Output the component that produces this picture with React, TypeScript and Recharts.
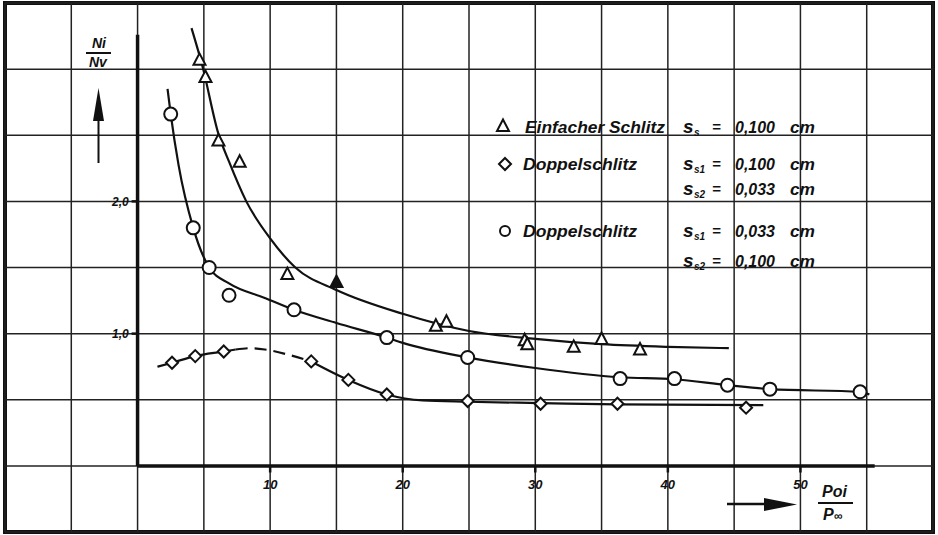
import React from 'react';
import { ComposedChart, Line, Scatter, XAxis, YAxis, ReferenceLine, ReferenceArea, ReferenceDot } from 'recharts';

// grid every 5 units in x, every 0.5 in y
const xGridTicks = [-10, -5, 0, 5, 10, 15, 20, 25, 30, 35, 40, 45, 50, 55, 60];
const yGridTicks = [-0.5, 0, 0.5, 1, 1.5, 2, 2.5, 3, 3.5];
const xTickValues = [10, 20, 30, 40, 50];
const xTickLabels = ['10', '20', '30', '40', '50'];
const yTickValues = [1, 2];
const yTickLabels = ['1,0', '2,0'];

// measured points
const triangles = [
    { x: 4.67, y: 3.07 }, { x: 5.12, y: 2.94 }, { x: 6.1, y: 2.46 }, { x: 7.7, y: 2.3 },
    { x: 11.3, y: 1.45 }, { x: 22.5, y: 1.06 }, { x: 23.3, y: 1.09 }, { x: 29.2, y: 0.95 },
    { x: 29.4, y: 0.92 }, { x: 32.9, y: 0.9 }, { x: 35.0, y: 0.96 }, { x: 37.9, y: 0.88 },
];
const trianglesFilled = [{ x: 15.0, y: 1.39 }];
const circles = [
    { x: 2.5, y: 2.66 }, { x: 4.2, y: 1.8 }, { x: 5.4, y: 1.5 }, { x: 6.9, y: 1.29 },
    { x: 11.8, y: 1.18 }, { x: 18.8, y: 0.97 }, { x: 24.9, y: 0.82 }, { x: 36.4, y: 0.66 },
    { x: 40.5, y: 0.66 }, { x: 44.5, y: 0.61 }, { x: 47.7, y: 0.58 }, { x: 54.5, y: 0.56 },
];
const diamonds = [
    { x: 2.6, y: 0.78 }, { x: 4.35, y: 0.83 }, { x: 6.5, y: 0.865 }, { x: 13.1, y: 0.79 },
    { x: 15.9, y: 0.65 }, { x: 18.8, y: 0.54 }, { x: 24.9, y: 0.49 }, { x: 30.4, y: 0.47 },
    { x: 36.2, y: 0.47 }, { x: 45.9, y: 0.44 },
];

// hand-drawn fit curves
const triangleCurve = [
    { x: 4.07, y: 3.31 }, { x: 4.9, y: 3.02 }, { x: 6.1, y: 2.51 }, { x: 6.9, y: 2.3 },
    { x: 8.2, y: 2.0 }, { x: 10, y: 1.72 }, { x: 11.9, y: 1.5 }, { x: 15, y: 1.33 },
    { x: 20, y: 1.15 }, { x: 25, y: 1.02 }, { x: 30, y: 0.96 }, { x: 35, y: 0.92 },
    { x: 40, y: 0.9 }, { x: 44.6, y: 0.89 },
];
const circleCurve = [
    { x: 2.26, y: 2.85 }, { x: 2.5, y: 2.66 }, { x: 3.1, y: 2.27 }, { x: 4.2, y: 1.8 },
    { x: 5.4, y: 1.5 }, { x: 6.9, y: 1.38 }, { x: 9.6, y: 1.27 }, { x: 11.8, y: 1.18 },
    { x: 15, y: 1.08 }, { x: 18.8, y: 0.97 }, { x: 20, y: 0.93 }, { x: 24.9, y: 0.82 },
    { x: 30, y: 0.74 }, { x: 36.4, y: 0.67 }, { x: 40.5, y: 0.655 }, { x: 44.5, y: 0.61 },
    { x: 47.7, y: 0.58 }, { x: 54.5, y: 0.56 }, { x: 55.2, y: 0.54 },
];
const diamondCurveA = [
    { x: 1.5, y: 0.75 }, { x: 2.6, y: 0.78 }, { x: 4.35, y: 0.83 }, { x: 6.5, y: 0.865 }, { x: 7.4, y: 0.88 },
];
const diamondCurveDashed = [
    { x: 7.4, y: 0.88 }, { x: 8.5, y: 0.89 }, { x: 9.6, y: 0.88 }, { x: 11.4, y: 0.84 }, { x: 13.1, y: 0.79 },
];
const diamondCurveB = [
    { x: 13.1, y: 0.79 }, { x: 15.9, y: 0.65 }, { x: 18.8, y: 0.54 }, { x: 21.5, y: 0.495 },
    { x: 24.9, y: 0.485 }, { x: 30.4, y: 0.475 }, { x: 36.2, y: 0.465 }, { x: 47.2, y: 0.46 },
];

const INK = '#111';
const FONT = "'Liberation Sans', Arial, sans-serif";

const Triangle = (props: any) => {
    const { cx, cy, filled } = props;
    return <polygon points={`${cx},${cy - 6.5} ${cx + 6},${cy + 5} ${cx - 6},${cy + 5}`} fill={filled ? INK : '#fff'} stroke={INK} strokeWidth={2} />;
};
const Circle = (props: any) => <circle cx={props.cx} cy={props.cy} r={6.5} fill="#fff" stroke={INK} strokeWidth={2} />;
const Diamond = (props: any) => {
    const { cx, cy } = props;
    return <polygon points={`${cx},${cy - 6} ${cx + 6},${cy} ${cx},${cy + 6} ${cx - 6},${cy}`} fill="#fff" stroke={INK} strokeWidth={2} />;
};

const txt = { fontFamily: FONT, fontStyle: 'italic' as const, fontWeight: 700, fill: INK };

function SVal({ x, y, sub, value }: { x: number; y: number; sub: string; value: string }) {
    return (
        <g>
            <text x={x} y={y} fontSize={19} {...txt}>s</text>
            <text x={x + 11} y={y + 3} fontSize={10} {...txt}>{sub}</text>
            <text x={x + 29} y={y - 1} fontSize={15} {...txt}>=</text>
            <text x={x + 52} y={y} fontSize={17} textLength={40} lengthAdjust="spacingAndGlyphs" {...txt}>{value}</text>
            <text x={x + 107} y={y} fontSize={17} textLength={25} lengthAdjust="spacingAndGlyphs" {...txt}>cm</text>
        </g>
    );
}

function Overlay() {
    return (
        <svg width={938} height={535} style={{ position: 'absolute', left: 0, top: 0, pointerEvents: 'none' }}>
            {/* y title */}
            <text x={92} y={48} fontSize={14} {...txt}>Ni</text>
            <line x1={86} y1={53} x2={111} y2={53} stroke={INK} strokeWidth={2} />
            <text x={89} y={67} fontSize={14} {...txt}>Nv</text>
            <polygon points="98.5,88 104,121 93,121" fill={INK} />
            <line x1={98.5} y1={118} x2={98.5} y2={163} stroke={INK} strokeWidth={2} />
            {/* x title */}
            <text x={822} y={497} fontSize={16} {...txt}>Poi</text>
            <line x1={818} y1={503} x2={853} y2={503} stroke={INK} strokeWidth={2} />
            <text x={823} y={520} fontSize={16} {...txt}>P<tspan fontSize={12}>∞</tspan></text>
            <line x1={727} y1={504} x2={770} y2={504} stroke={INK} strokeWidth={2.5} />
            <polygon points="764,498 797,504.5 764,511" fill={INK} />
            {/* legend */}
            <Triangle cx={503} cy={126} />
            <text x={525} y={133} fontSize={17} textLength={140} lengthAdjust="spacingAndGlyphs" {...txt}>Einfacher Schlitz</text>
            <SVal x={683} y={133} sub="s" value="0,100" />
            <Diamond cx={505} cy={164} />
            <text x={523} y={170} fontSize={17} textLength={114} lengthAdjust="spacingAndGlyphs" {...txt}>Doppelschlitz</text>
            <SVal x={683} y={170} sub="s1" value="0,100" />
            <SVal x={683} y={195} sub="s2" value="0,033" />
            <circle cx={505} cy={231} r={5} fill="#fff" stroke={INK} strokeWidth={2} />
            <text x={523} y={237} fontSize={17} textLength={114} lengthAdjust="spacingAndGlyphs" {...txt}>Doppelschlitz</text>
            <SVal x={683} y={237} sub="s1" value="0,033" />
            <SVal x={683} y={267} sub="s2" value="0,100" />
        </svg>
    );
}

const labelStyle = { fontFamily: FONT, fontStyle: 'italic', fontWeight: 700, fontSize: 13, fill: INK };

export default function App() {
    return (
        <div style={{ position: 'absolute', left: 0, top: 0, width: 938, height: 535, background: '#fff' }}>
            <ComposedChart width={938} height={535} margin={{ top: 3, right: 5, bottom: 3, left: 5 }}>
                <XAxis type="number" dataKey="x" domain={[-10, 60]} ticks={xGridTicks} height={0} tick={false} axisLine={false} tickLine={false} allowDataOverflow />
                <YAxis type="number" dataKey="y" domain={[-0.5, 3.5]} ticks={yGridTicks} width={0} tick={false} axisLine={false} tickLine={false} allowDataOverflow />
                {/* grid */}
                {xGridTicks.map((t) => (
                    <ReferenceLine key={`gx${t}`} x={t} stroke="#222" strokeWidth={1.5} />
                ))}
                {yGridTicks.map((t) => (
                    <ReferenceLine key={`gy${t}`} y={t} stroke="#222" strokeWidth={1.5} />
                ))}
                <ReferenceArea x1={-10} x2={60} y1={-0.5} y2={3.5} fill="none" stroke={INK} strokeWidth={4} />
                <ReferenceLine segment={[{ x: 0, y: 0 }, { x: 0, y: 3.26 }]} stroke={INK} strokeWidth={3.5} />
                <ReferenceLine segment={[{ x: 0, y: 0 }, { x: 55.6, y: 0 }]} stroke={INK} strokeWidth={3.5} />
                {yTickValues.map((v, i) => (
                    <ReferenceLine key={`yt${i}`} segment={[{ x: -0.45, y: v }, { x: 0, y: v }]} stroke={INK} strokeWidth={2.5} />
                ))}
                {xTickValues.map((v, i) => (
                    <ReferenceLine key={`xt${i}`} segment={[{ x: v, y: 0 }, { x: v, y: -0.05 }]} stroke={INK} strokeWidth={2.5} />
                ))}
                {xTickValues.map((v, i) => (
                    <ReferenceDot key={`xl${i}`} x={v} y={-0.14} r={0} stroke="none" label={{ value: xTickLabels[i], position: 'center', ...labelStyle }} />
                ))}
                {yTickValues.map((v, i) => (
                    <ReferenceDot key={`yl${i}`} x={-1.3} y={v} r={0} stroke="none" label={{ value: yTickLabels[i], position: 'center', ...labelStyle, fontSize: 12 }} />
                ))}

                <Line data={triangleCurve} dataKey="y" type="monotone" stroke={INK} strokeWidth={2.2} dot={false} isAnimationActive={false} />
                <Line data={circleCurve} dataKey="y" type="monotone" stroke={INK} strokeWidth={2.2} dot={false} isAnimationActive={false} />
                <Line data={diamondCurveA} dataKey="y" type="monotone" stroke={INK} strokeWidth={2.2} dot={false} isAnimationActive={false} />
                <Line data={diamondCurveDashed} dataKey="y" type="monotone" stroke={INK} strokeWidth={2.2} strokeDasharray="12 7" dot={false} isAnimationActive={false} />
                <Line data={diamondCurveB} dataKey="y" type="monotone" stroke={INK} strokeWidth={2.2} dot={false} isAnimationActive={false} />

                <Scatter data={triangles} dataKey="y" shape={<Triangle />} isAnimationActive={false} />
                <Scatter data={trianglesFilled} dataKey="y" shape={<Triangle filled />} isAnimationActive={false} />
                <Scatter data={circles} dataKey="y" shape={<Circle />} isAnimationActive={false} />
                <Scatter data={diamonds} dataKey="y" shape={<Diamond />} isAnimationActive={false} />
            </ComposedChart>
            <Overlay />
        </div>
    );
}
